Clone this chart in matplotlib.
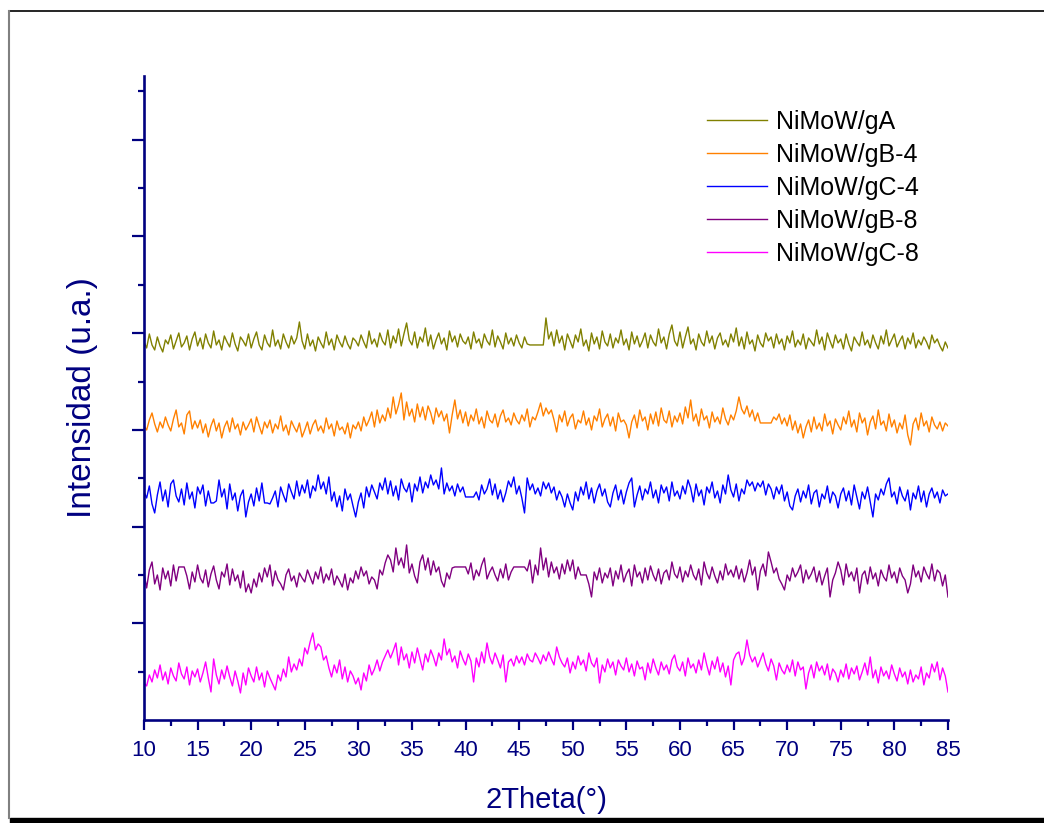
import numpy as np
import matplotlib
matplotlib.use("Agg")
import matplotlib.pyplot as plt
from matplotlib.ticker import FixedLocator, MultipleLocator
from matplotlib.lines import Line2D
from matplotlib.patches import Rectangle

plt.rcParams['font.family'] = ['Liberation Sans', 'DejaVu Sans']

# 2theta scan grid (10 to 85 deg, 0.25 deg step)
two_theta = np.arange(10, 85.001, 0.25)

labels = ["NiMoW/gA", "NiMoW/gB-4", "NiMoW/gC-4", "NiMoW/gB-8", "NiMoW/gC-8"]
colors = ["#808000", "#FF8000", "#0000FF", "#800080", "#FF00FF"]

# intensities (a.u., already stacked), 20 points per 5 deg row
gA = [
    378, 372, 386, 375, 370, 383, 374, 368, 380, 376, 385, 371, 379, 387, 373, 377, 384, 370, 381, 388,
    374, 382, 371, 386, 377, 372, 389, 375, 380, 370, 384, 378, 373, 387, 376, 369, 383, 379, 374, 386,
    372, 381, 388, 375, 370, 385, 377, 373, 390, 374, 380, 371, 386, 378, 372, 384, 376, 382, 398, 379,
    371, 386, 374, 380, 369, 383, 377, 372, 388, 375, 381, 370, 385, 378, 373, 384, 376, 371, 382, 379,
    374, 385, 378, 372, 389, 376, 381, 373, 387, 379, 375, 390, 372, 384, 377, 391, 374, 386, 397, 380,
    375, 388, 372, 383, 378, 392, 374, 385, 371, 380, 387, 376, 382, 370, 389, 378, 384, 373, 386, 379,
    376, 383, 371, 388, 377, 381, 372, 386, 379, 375, 390, 373, 384, 378, 371, 387, 376, 382, 374, 385,
    377, 372, 383, 376, 375, 375, 375, 375, 375, 375, 402, 381, 388, 374, 390, 377, 384, 370, 386, 379,
    372, 385, 378, 391, 374, 380, 369, 387, 376, 383, 371, 389, 378, 374, 386, 372, 382, 377, 390, 375,
    381, 370, 388, 376, 384, 373, 379, 387, 372, 385, 378, 374, 391, 377, 383, 371, 386, 395, 379, 374,
    388, 372, 383, 393, 376, 381, 370, 386, 378, 374, 389, 377, 384, 371, 382, 387, 375, 380, 373, 386,
    378, 392, 374, 383, 371, 388, 376, 380, 369, 385, 377, 373, 387, 379, 383, 372, 386, 376, 381, 370,
    384, 377, 389, 373, 380, 375, 386, 371, 382, 378, 374, 390, 376, 383, 370, 387, 379, 372, 385, 377,
    381, 371, 386, 376, 369, 383, 378, 374, 388, 375, 380, 372, 385, 377, 371, 384, 376, 390, 374, 380,
    386, 373, 379, 384, 371, 382, 376, 387, 372, 380, 375, 383, 378, 371, 385, 377, 381, 374, 369, 378,
    372,
]

gB4 = [
    294, 290, 300, 307, 296, 288, 298, 292, 303, 295, 289, 301, 310, 293, 297, 286, 305, 309, 291, 299,
    292, 300, 287, 296, 283, 294, 301, 289, 297, 282, 293, 299, 288, 302, 291, 296, 285, 298, 290, 295,
    301, 288, 303, 294, 286, 298, 292, 300, 287, 296, 291, 304, 289, 295, 285, 299, 293, 288, 297, 283,
    290, 298, 286, 295, 300, 289, 294, 287, 302, 291, 296, 284, 299, 290, 293, 286, 297, 282, 295, 291,
    298, 289, 303, 294, 300, 308, 293, 310, 297, 305, 299, 312, 302, 323, 306, 315, 327, 300, 318, 304,
    311, 298, 316, 303, 313, 300, 314, 307, 296, 312, 303, 309, 299, 306, 287, 305, 320, 301, 310, 297,
    308, 294, 305, 299, 311, 296, 303, 292, 309, 300, 297, 306, 293, 304, 310, 298, 302, 295, 307, 300,
    296, 305, 299, 311, 293, 303, 300, 308, 317, 304, 312, 306, 310, 300, 288, 305, 298, 309, 294, 302,
    306, 291, 300, 297, 309, 295, 302, 290, 304, 299, 311, 293, 301, 306, 294, 303, 289, 307, 298, 300,
    295, 282, 298, 305, 292, 310, 299, 303, 290, 306, 296, 308, 294, 312, 300, 297, 309, 293, 304, 298,
    307, 296, 313, 302, 320, 299, 306, 294, 311, 300, 304, 292, 308, 298, 303, 296, 312, 301, 295, 305,
    300, 309, 323, 311, 306, 314, 303, 310, 299, 307, 297, 297, 297, 297, 297, 303, 300, 306, 296, 302,
    294, 305, 290, 299, 287, 296, 282, 293, 300, 288, 303, 291, 297, 289, 306, 294, 299, 286, 301, 295,
    290, 303, 296, 309, 293, 300, 288, 307, 297, 302, 285, 298, 304, 291, 310, 295, 299, 289, 306, 293,
    300, 287, 297, 291, 305, 285, 275, 296, 302, 290, 307, 294, 299, 288, 303, 295, 291, 298, 289, 297,
    294,
]

gC4 = [
    228, 222, 234, 216, 207, 225, 238, 219, 230, 213, 236, 240, 224, 218, 231, 215, 237, 221, 228, 212,
    233, 226, 235, 214, 229, 217, 217, 219, 240, 223, 231, 211, 236, 220, 227, 209, 224, 230, 203, 218,
    226, 214, 232, 219, 237, 217, 217, 216, 222, 229, 213, 233, 225, 218, 236, 228, 221, 239, 224, 235,
    227, 240, 222, 234, 229, 245, 231, 238, 226, 243, 219, 228, 213, 224, 209, 231, 220, 226, 214, 203,
    218, 227, 212, 233, 223, 235, 228, 221, 237, 230, 242, 226, 239, 224, 234, 220, 241, 232, 228, 237,
    218, 236, 229, 243, 227, 238, 232, 245, 235, 240, 231, 252, 226, 237, 229, 234, 224, 236, 228, 233,
    223, 223, 223, 223, 228, 220, 235, 226, 231, 241, 225, 236, 221, 230, 218, 227, 239, 233, 243, 226,
    234, 222, 207, 242, 230, 236, 226, 232, 224, 238, 231, 237, 227, 233, 220, 229, 223, 213, 226, 217,
    210, 228, 219, 233, 225, 238, 221, 232, 217, 229, 236, 224, 231, 218, 213, 227, 235, 220, 230, 216,
    228, 237, 242, 213, 225, 234, 220, 231, 226, 238, 222, 230, 217, 235, 227, 233, 219, 238, 224, 229,
    221, 234, 226, 240, 232, 218, 236, 224, 230, 215, 233, 227, 238, 222, 229, 217, 235, 226, 245, 230,
    223, 236, 219, 231, 226, 240, 234, 238, 229, 237, 233, 239, 225, 236, 231, 221, 233, 226, 235, 219,
    228, 214, 210, 224, 231, 218, 229, 222, 235, 216, 227, 230, 213, 226, 221, 234, 217, 228, 224, 212,
    226, 232, 219, 229, 215, 235, 223, 211, 228, 221, 233, 218, 203, 226, 220, 231, 225, 236, 242, 223,
    228, 216, 233, 224, 219, 230, 210, 227, 221, 234, 218, 229, 213, 226, 232, 222, 228, 217, 230, 224,
    226,
]

gB8 = [
    147, 132, 150, 158, 136, 145, 130, 152, 141, 149, 134, 155, 139, 153, 153, 153, 144, 131, 148, 138,
    155, 142, 137, 150, 133, 146, 154, 140, 131, 148, 143, 156, 135, 151, 139, 145, 132, 149, 128, 136,
    127, 141, 133, 147, 138, 152, 143, 155, 134, 149, 140, 136, 130, 145, 151, 139, 144, 133, 147, 142,
    138, 150, 143, 136, 148, 141, 153, 137, 146, 140, 151, 135, 144, 139, 133, 146, 130, 142, 137, 149,
    141, 153, 144, 149, 136, 143, 140, 131, 150, 145, 157, 165, 160, 148, 172, 155, 162, 152, 175, 147,
    156, 144, 137, 158, 165, 150, 162, 145, 159, 148, 153, 139, 133, 147, 141, 152, 153, 153, 153, 153,
    153, 146, 157, 140, 150, 144, 155, 162, 141, 148, 153, 145, 139, 151, 142, 156, 140, 148, 153, 153,
    153, 153, 153, 149, 160, 137, 155, 145, 172, 150, 162, 143, 158, 147, 153, 141, 156, 146, 160, 149,
    160, 141, 153, 145, 145, 145, 136, 123, 148, 140, 152, 137, 147, 142, 152, 134, 149, 141, 155, 138,
    146, 151, 134, 155, 143, 148, 137, 152, 140, 154, 145, 139, 151, 136, 147, 150, 140, 158, 146, 142,
    153, 138, 149, 143, 155, 145, 140, 151, 135, 158, 147, 141, 153, 144, 137, 149, 140, 156, 145, 150,
    143, 154, 141, 151, 138, 147, 160, 145, 153, 130, 149, 156, 144, 168, 158, 147, 152, 141, 136, 130,
    145, 139, 152, 143, 148, 155, 137, 150, 141, 146, 153, 138, 149, 135, 144, 152, 123, 140, 147, 158,
    150, 135, 156, 143, 148, 139, 152, 127, 145, 149, 136, 153, 141, 147, 134, 150, 143, 139, 155, 142,
    148, 137, 152, 144, 140, 127, 136, 155, 143, 149, 138, 153, 146, 141, 156, 139, 150, 147, 134, 145,
    123,
]

gC8 = [
    37, 34, 45, 38, 50, 42, 55, 40, 48, 36, 52, 44, 39, 57, 46, 41, 53, 35, 49, 43,
    51, 38, 47, 58, 42, 28, 61, 45, 36, 50, 41, 54, 43, 34, 49, 39, 27, 47, 35, 52,
    44, 38, 53, 40, 47, 33, 49, 42, 36, 30, 45, 39, 51, 43, 63, 48, 56, 50, 61, 54,
    72, 66, 78, 87, 70, 76, 73, 60, 64, 52, 43, 55, 47, 60, 41, 53, 38, 49, 44, 36,
    42, 30, 47, 39, 55, 45, 51, 60, 49, 58, 64, 70, 62, 69, 77, 55, 73, 60, 66, 52,
    68, 57, 72, 61, 50, 66, 58, 70, 63, 54, 67, 60, 81, 65, 71, 58, 64, 52, 69, 61,
    55, 66, 59, 38, 62, 53, 68, 57, 77, 63, 56, 67, 60, 52, 65, 38, 58, 61, 54, 64,
    57, 63, 55, 66, 60, 58, 67, 62, 56, 65, 59, 68, 61, 55, 73, 63, 57, 53, 62, 47,
    58, 51, 64, 55, 60, 49, 67, 57, 53, 62, 37, 55, 48, 61, 52, 58, 45, 60, 54, 50,
    62, 48, 56, 44, 59, 51, 53, 40, 57, 47, 61, 52, 45, 58, 50, 55, 46, 60, 65, 53,
    49, 58, 44, 62, 52, 56, 47, 60, 50, 67, 55, 45, 59, 51, 63, 48, 57, 43, 54, 35,
    60, 66, 68, 55, 62, 80, 65, 58, 63, 53, 60, 67, 56, 49, 61, 54, 40, 57, 50, 46,
    55, 48, 60, 44, 58, 50, 53, 31, 47, 55, 42, 58, 49, 54, 45, 56, 40, 51, 47, 38,
    50, 43, 56, 41, 52, 46, 54, 40, 48, 57, 45, 63, 42, 50, 37, 53, 44, 49, 41, 55,
    46, 39, 52, 43, 48, 36, 50, 38, 45, 41, 53, 35, 47, 42, 56, 48, 58, 40, 52, 44,
    28,
]

series = [gA, gB4, gC4, gB8, gC8]
navy = "#000080"

fig = plt.figure(figsize=(10.44, 8.23), dpi=100)
ax = fig.add_axes([0.1379, 0.1252, 0.7701, 0.7825])

for y, lab, col in zip(series, labels, colors):
    ax.plot(two_theta, y, color=col, lw=1.0, label=lab)

ax.set_xlim(10, 85)
ax.set_ylim(0, 644)

ax.xaxis.set_major_locator(MultipleLocator(5))
ax.xaxis.set_minor_locator(MultipleLocator(2.5))
ax.yaxis.set_major_locator(FixedLocator([96.7 * k for k in range(1, 7)]))
ax.yaxis.set_minor_locator(FixedLocator([48.35 + 96.7 * k for k in range(0, 7)]))
ax.set_yticklabels([])

for s in ["top", "right"]:
    ax.spines[s].set_visible(False)
for s in ["left", "bottom"]:
    ax.spines[s].set_color(navy)
    ax.spines[s].set_linewidth(1.9)

ax.tick_params(axis="both", which="both", direction="out", color=navy, width=1.6)
ax.tick_params(axis="x", which="major", length=7.5, labelsize=16, labelcolor=navy, pad=7)
ax.tick_params(axis="x", which="minor", length=4)
ax.tick_params(axis="y", which="major", length=8.5)
ax.tick_params(axis="y", which="minor", length=4.5)

ax.set_xlabel("2Theta(°)", fontsize=21, color=navy)
ax.xaxis.set_label_coords(0.5, -0.103)
ax.set_ylabel("Intensidad (u.a.)", fontsize=24, color=navy)
ax.yaxis.set_label_coords(-0.057, 0.5)

leg = ax.legend(loc="upper left", bbox_to_anchor=(0.700, 0.947), frameon=False,
                fontsize=18, handlelength=2.4, handletextpad=0.35,
                labelspacing=0.36, borderpad=0, borderaxespad=0)

# page frame around the figure
fig.add_artist(Line2D([9 / 1044, 1], [1 - 11 / 823] * 2, color="black", lw=1.2,
                      transform=fig.transFigure))
fig.add_artist(Line2D([9 / 1044] * 2, [5 / 823, 1 - 11 / 823], color="#808080", lw=1.5,
                      transform=fig.transFigure))
fig.add_artist(Rectangle((10 / 1044, 0), 1, 5 / 823, color="black",
                         transform=fig.transFigure))

fig.savefig("out.png", dpi=100)
